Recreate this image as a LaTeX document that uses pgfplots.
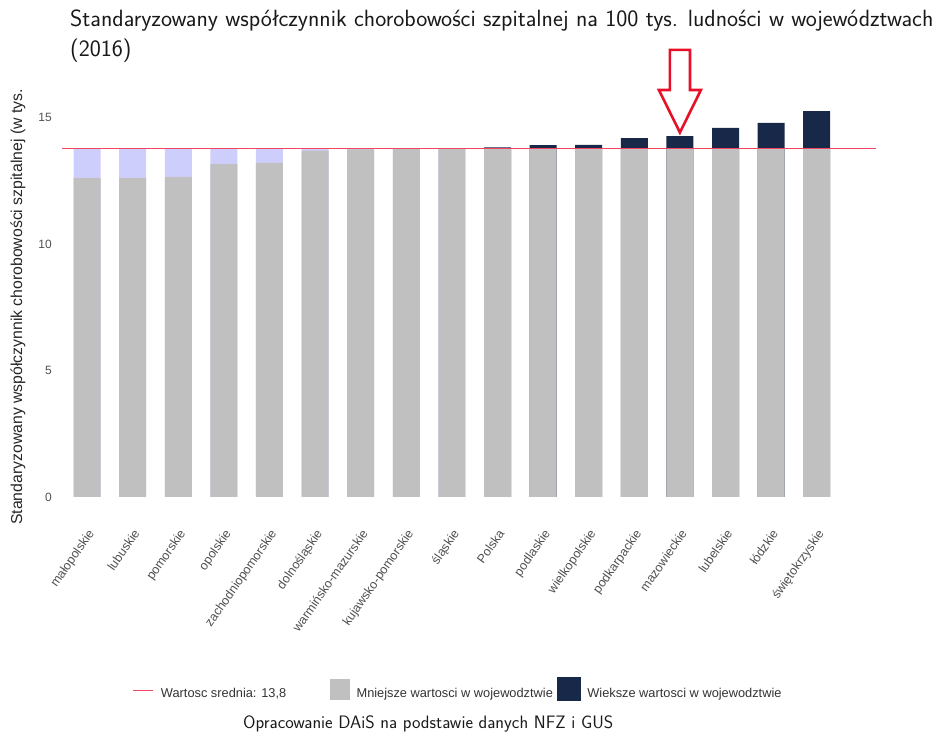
\documentclass[border=0pt]{standalone}
\usepackage{fontspec}
\setmainfont{Liberation Sans}
\usepackage{pgfplots}
\pgfplotsset{compat=1.18}
\definecolor{barGray}{RGB}{192,192,192}
\definecolor{barLav}{RGB}{206,206,252}
\definecolor{barNavy}{RGB}{24,40,72}
\definecolor{meanRed}{RGB}{240,70,100}
\definecolor{arrowRed}{RGB}{232,16,40}
\definecolor{tickGray}{RGB}{80,80,80}
\begin{document}
\begin{tikzpicture}[x=1pt,y=1pt]
\begin{axis}[
  at={(62pt,238pt)}, anchor=south west,
  scale only axis, width=814pt, height=460pt,
  xmin=-0.55, xmax=17.3, ymin=-0.2, ymax=18,
  ybar, bar width=27pt, bar shift=0pt,
  axis line style={draw=none}, tick style={draw=none},
  clip=false,
  ytick={0,5,10,15},
  xtick={0,...,16},
  xticklabels={małopolskie,lubuskie,pomorskie,opolskie,zachodniopomorskie,dolnośląskie,warmińsko-mazurskie,kujawsko-pomorskie,śląskie,Polska,podlaskie,wielkopolskie,podkarpackie,mazowieckie,lubelskie,łódzkie,świętokrzyskie},
  /pgf/number format/assume math mode=true,
  yticklabel style={font=\fontsize{12}{14}\selectfont, text=tickGray, inner sep=0pt, anchor=east, xshift=-10pt},
  xticklabel style={font=\fontsize{12.5}{14}\selectfont, text=tickGray, inner sep=0pt, xshift=0pt, yshift=-22pt, rotate=55, anchor=north east},
  ylabel={Standaryzowany współczynnik chorobowości szpitalnej (w tys.},
  ylabel style={font=\fontsize{15.8}{18}\selectfont, text=black!85, at={(axis description cs:-0.054,0.424)}, anchor=center},
  legend style={at={(axis description cs:0.0872,-0.4065)}, anchor=west, draw=none, fill=none,
    inner sep=0pt, outer sep=0pt, legend columns=3,
    font=\fontsize{12.8}{14}\selectfont, text=black!80,
    nodes={inner sep=0pt},
    /tikz/every odd column/.append style={column sep=7pt},
    /tikz/every even column/.append style={column sep=4pt}},
  legend cell align=left,
]
\addlegendimage{legend image code/.code={\draw[meanRed,line width=1pt] (0pt,0.3em) -- (20pt,0.3em);}}
\addlegendentry{Wartosc srednia: 13,8\rule{40pt}{0pt}}
\addlegendimage{legend image code/.code={\fill[barGray] (0pt,-6pt) rectangle (19pt,14pt);}}
\addlegendentry{Mniejsze wartosci w wojewodztwie}
\addlegendimage{legend image code/.code={\fill[barNavy] (0pt,-7pt) rectangle (23pt,16pt);}}
\addlegendentry{Wieksze wartosci w wojewodztwie}
% lavender: gap between value and mean (drawn first, up to mean)
\addplot[fill=barLav, draw=none, forget plot] coordinates {
 (0,13.8) (1,13.8) (2,13.8) (3,13.8) (4,13.8) (5,13.8) (6,13.8) (7,13.8) (8,13.8)};
% navy: values above mean
\addplot[fill=barNavy, draw=none, forget plot] coordinates {
 (9,13.83) (10,13.92) (11,13.93) (12,14.2) (13,14.28) (14,14.6) (15,14.8) (16,15.27)};
% gray: value up to mean
\addplot[fill=barGray, draw=none, forget plot] coordinates {
 (0,12.62) (1,12.62) (2,12.66) (3,13.18) (4,13.22) (5,13.7) (6,13.75) (7,13.76) (8,13.78)
 (9,13.8) (10,13.8) (11,13.8) (12,13.8) (13,13.8) (14,13.8) (15,13.8) (16,13.8)};
% mean line
\addplot[sharp plot, meanRed, line width=1.1pt, forget plot] coordinates {(-0.55,13.8) (17.3,13.8)};
% arrow annotation above mazowieckie
\draw[arrowRed, line width=2.6pt, fill=white, line join=miter]
  (axis cs:12.78,17.69) -- (axis cs:13.22,17.69) -- (axis cs:13.22,16.10) -- (axis cs:13.46,16.10)
  -- (axis cs:13,14.42) -- (axis cs:12.54,16.10) -- (axis cs:12.78,16.10) -- cycle;
\end{axis}
\node[anchor=base west, inner sep=0pt, font=\sffamily\fontsize{23.5}{30}\selectfont, text=black!90]
  at (70pt,713pt) {Standaryzowany współczynnik chorobowości szpitalnej na 100 tys. ludności w województwach};
\node[anchor=base west, inner sep=0pt, font=\sffamily\fontsize{23.5}{30}\selectfont, text=black!90]
  at (70pt,683pt) {(2016)};
\node[anchor=base west, inner sep=0pt, font=\sffamily\fontsize{18}{20}\selectfont, text=black!90]
  at (243pt,12pt) {Opracowanie DAiS na podstawie danych NFZ i GUS};
\pgfresetboundingbox
\path[use as bounding box] (0pt,0pt) rectangle (941pt,740pt);
\end{tikzpicture}
\end{document}
